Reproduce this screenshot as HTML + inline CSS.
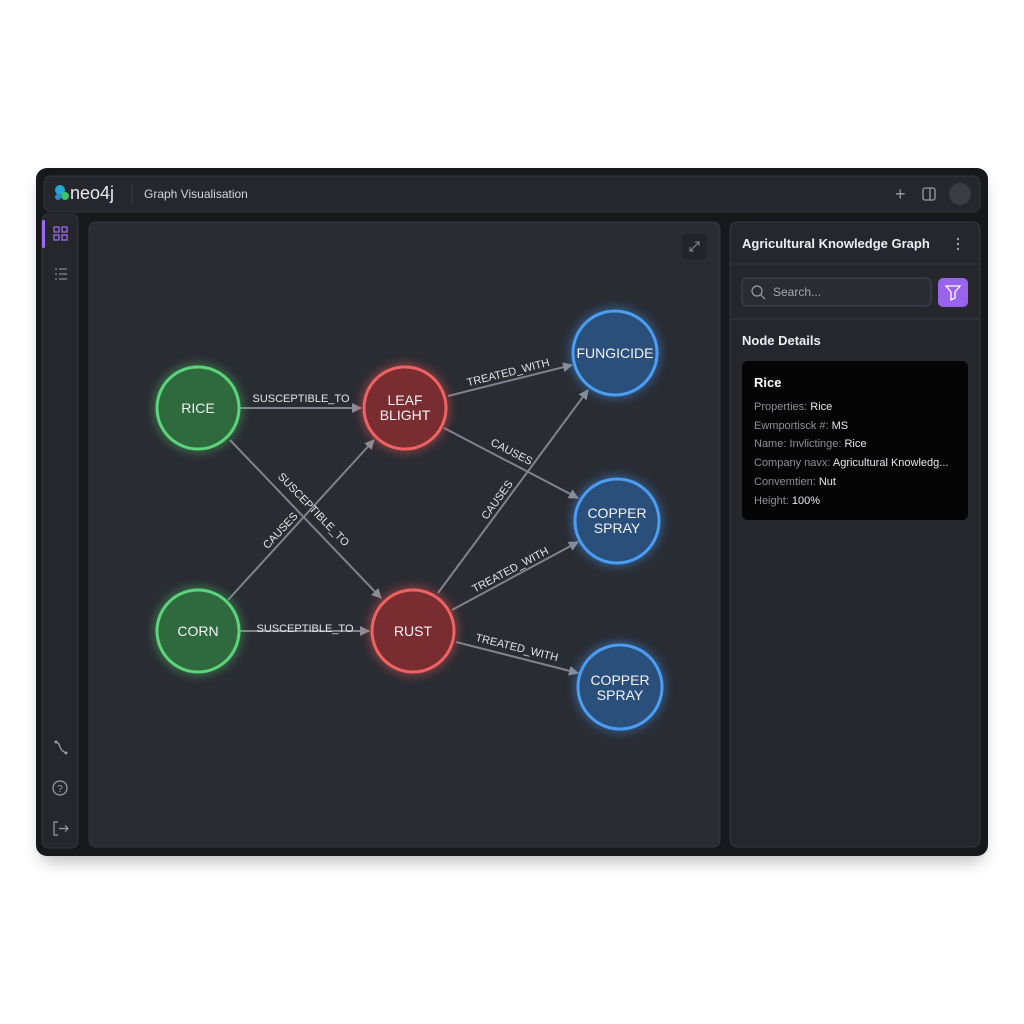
<!DOCTYPE html>
<html><head><meta charset="utf-8"><style>
html,body{margin:0;padding:0;background:#fff;width:1024px;height:1024px;overflow:hidden}
svg{display:block}
text{font-family:"Liberation Sans",sans-serif}
</style></head><body>
<svg width="1024" height="1024" viewBox="0 0 1024 1024">
<defs>
<filter id="sh" x="-10%" y="-10%" width="120%" height="130%"><feGaussianBlur stdDeviation="8"/></filter>
<filter id="gl" x="-50%" y="-50%" width="200%" height="200%"><feGaussianBlur stdDeviation="5"/></filter>
<marker id="ar" markerWidth="10" markerHeight="10" refX="9" refY="5" orient="auto" markerUnits="userSpaceOnUse"><path d="M0,0 L10,5 L0,10 z" fill="#8a8d96"/></marker>
</defs>
<rect x="40" y="178" width="944" height="684" rx="12" fill="#000" opacity="0.25" filter="url(#sh)"/>
<rect x="36" y="168" width="952" height="688" rx="11" fill="#16181c"/>
<!-- header -->
<rect x="44" y="176" width="936" height="36" rx="7" fill="#25272d" stroke="#33363d"/>
<circle cx="60" cy="190" r="5" fill="#1fa9d6"/><circle cx="65" cy="196" r="4" fill="#3bc26a"/><circle cx="58" cy="197" r="3" fill="#2d8fd0"/>
<text x="70" y="199" font-size="18" fill="#e8e9ec">neo4j</text>
<line x1="132" y1="184" x2="132" y2="204" stroke="#3a3d44"/>
<text x="144" y="198" font-size="12" fill="#d4d6da">Graph Visualisation</text>
<text x="895" y="200" font-size="18" fill="#9a9da4">+</text>
<rect x="923" y="188" width="12" height="12" rx="2" fill="none" stroke="#9a9da4" stroke-width="1.3"/><line x1="930" y1="188" x2="930" y2="200" stroke="#9a9da4" stroke-width="1.3"/>
<circle cx="960" cy="194" r="11" fill="#3a3c44"/>
<!-- sidebar -->
<rect x="42" y="214" width="36" height="634" rx="6" fill="#25272d" stroke="#30333a"/>
<rect x="42" y="220" width="3" height="28" rx="1" fill="#9b6bf0"/>
<g stroke="#9b6bf0" stroke-width="1.3" fill="none"><rect x="54" y="227" width="5" height="5"/><rect x="62" y="227" width="5" height="5"/><rect x="54" y="235" width="5" height="5"/><rect x="62" y="235" width="5" height="5"/></g>
<g stroke="#8a8d96" stroke-width="1.2"><line x1="55" y1="269" x2="57" y2="269"/><line x1="59" y1="269" x2="67" y2="269"/><line x1="55" y1="274" x2="57" y2="274"/><line x1="59" y1="274" x2="67" y2="274"/><line x1="55" y1="279" x2="57" y2="279"/><line x1="59" y1="279" x2="67" y2="279"/></g>
<path d="M55,742 q4,0 5,5 q2,5 7,6" stroke="#9a9da4" stroke-width="1.3" fill="none"/><circle cx="56" cy="742" r="1.5" fill="#9a9da4"/><circle cx="66" cy="753" r="1.5" fill="#9a9da4"/>
<circle cx="60" cy="788" r="7" fill="none" stroke="#9a9da4" stroke-width="1.2"/><text x="60" y="792" font-size="10" fill="#9a9da4" text-anchor="middle">?</text>
<path d="M58,822 h-4 v13 h4 M59,828.5 h9 M65,825.5 l3,3 l-3,3" stroke="#9a9da4" stroke-width="1.2" fill="none"/>
<!-- graph panel -->
<rect x="89" y="222" width="631" height="625" rx="7" fill="#2a2c33" stroke="#363940"/>
<rect x="682" y="234" width="25" height="25" rx="4" fill="#23252b"/>
<path d="M690,251 l9,-9 M695,242 h4 v4 M690,247 v4 h4" stroke="#8a8d96" stroke-width="1" fill="none"/>
<!-- edges -->
<g stroke="#80838c" stroke-width="2" marker-end="url(#ar)">
<line x1="240" y1="408" x2="361" y2="408"/>
<line x1="230" y1="440" x2="381" y2="598"/>
<line x1="228" y1="600" x2="374" y2="440"/>
<line x1="240" y1="631" x2="369" y2="631"/>
<line x1="448" y1="396" x2="572" y2="365"/>
<line x1="444" y1="428" x2="578" y2="498"/>
<line x1="438" y1="593" x2="588" y2="390"/>
<line x1="452" y1="610" x2="578" y2="542"/>
<line x1="456" y1="642" x2="578" y2="673"/>
</g>
<g font-size="11" fill="#e4e5e8" text-anchor="middle">
<text x="301" y="402">SUSCEPTIBLE_TO</text>
<text x="305" y="632">SUSCEPTIBLE_TO</text>
<text transform="translate(311,512) rotate(46)">SUSCEPTIBLE_TO</text>
<text transform="translate(283,533) rotate(-47)">CAUSES</text>
<text transform="translate(509,376) rotate(-14)">TREATED_WITH</text>
<text transform="translate(510,455) rotate(27)">CAUSES</text>
<text transform="translate(500,502) rotate(-54)">CAUSES</text>
<text transform="translate(512,573) rotate(-28)">TREATED_WITH</text>
<text transform="translate(516,651) rotate(14)">TREATED_WITH</text>
</g>
<!-- nodes -->
<g>
<circle cx="198" cy="408" r="44" fill="#4fd070" opacity="0.45" filter="url(#gl)"/>
<circle cx="198" cy="408" r="41" fill="#2e6a3e" stroke="#5bd47a" stroke-width="3"/>
<circle cx="198" cy="631" r="44" fill="#4fd070" opacity="0.45" filter="url(#gl)"/>
<circle cx="198" cy="631" r="41" fill="#2e6a3e" stroke="#5bd47a" stroke-width="3"/>
<circle cx="405" cy="408" r="44" fill="#f05858" opacity="0.5" filter="url(#gl)"/>
<circle cx="405" cy="408" r="41" fill="#7a2d31" stroke="#f06262" stroke-width="3"/>
<circle cx="413" cy="631" r="44" fill="#f05858" opacity="0.5" filter="url(#gl)"/>
<circle cx="413" cy="631" r="41" fill="#7a2d31" stroke="#f06262" stroke-width="3"/>
<circle cx="615" cy="353" r="45" fill="#3f94f0" opacity="0.5" filter="url(#gl)"/>
<circle cx="615" cy="353" r="42" fill="#2b4f7b" stroke="#4a9df2" stroke-width="3"/>
<circle cx="617" cy="521" r="45" fill="#3f94f0" opacity="0.5" filter="url(#gl)"/>
<circle cx="617" cy="521" r="42" fill="#2b4f7b" stroke="#4a9df2" stroke-width="3"/>
<circle cx="620" cy="687" r="45" fill="#3f94f0" opacity="0.5" filter="url(#gl)"/>
<circle cx="620" cy="687" r="42" fill="#2b4f7b" stroke="#4a9df2" stroke-width="3"/>
</g>
<g font-size="14" fill="#f2f3f5" text-anchor="middle">
<text x="198" y="413">RICE</text>
<text x="198" y="636">CORN</text>
<text x="405" y="405">LEAF</text><text x="405" y="420">BLIGHT</text>
<text x="413" y="636">RUST</text>
<text x="615" y="358">FUNGICIDE</text>
<text x="617" y="518">COPPER</text><text x="617" y="533">SPRAY</text>
<text x="620" y="685">COPPER</text><text x="620" y="700">SPRAY</text>
</g>
<!-- right panel -->
<rect x="730" y="222" width="250" height="625" rx="7" fill="#25272d" stroke="#363940"/>
<text x="742" y="248" font-size="13" font-weight="bold" fill="#eceef1">Agricultural Knowledge Graph</text>
<g fill="#9a9da4"><circle cx="958" cy="239" r="1.2"/><circle cx="958" cy="244" r="1.2"/><circle cx="958" cy="249" r="1.2"/></g>
<line x1="731" y1="264" x2="979" y2="264" stroke="#363940"/>
<rect x="742" y="278" width="189" height="28" rx="5" fill="#2a2c33" stroke="#43464e"/>
<circle cx="757" cy="291" r="5" fill="none" stroke="#9a9da4" stroke-width="1.2"/><line x1="761" y1="295" x2="765" y2="299" stroke="#9a9da4" stroke-width="1.2"/>
<text x="773" y="296" font-size="12" fill="#a4a7ad">Search...</text>
<rect x="938" y="278" width="30" height="29" rx="5" fill="#9a63ee"/>
<path d="M946,286 h14 l-5,6 v6 l-4,2 v-8 z" fill="none" stroke="#fff" stroke-width="1.3"/>
<line x1="731" y1="319" x2="979" y2="319" stroke="#363940"/>
<text x="742" y="345" font-size="13" font-weight="bold" fill="#eceef1">Node Details</text>
<rect x="742" y="361" width="226" height="159" rx="6" fill="#050506"/>
<text x="754" y="387" font-size="13" font-weight="bold" fill="#fff">Rice</text>
<g font-size="11">
<text x="754" y="410" fill="#8d9096">Properties: <tspan fill="#e8e9ec">Rice</tspan></text>
<text x="754" y="429" fill="#8d9096">Ewmportisck #: <tspan fill="#e8e9ec">MS</tspan></text>
<text x="754" y="447" fill="#8d9096">Name: Invlictinge: <tspan fill="#e8e9ec">Rice</tspan></text>
<text x="754" y="466" fill="#8d9096">Company navx: <tspan fill="#e8e9ec">Agricultural Knowledg...</tspan></text>
<text x="754" y="485" fill="#8d9096">Convemtien: <tspan fill="#e8e9ec">Nut</tspan></text>
<text x="754" y="504" fill="#8d9096">Height: <tspan fill="#e8e9ec">100%</tspan></text>
</g>
</svg>
</body></html>
